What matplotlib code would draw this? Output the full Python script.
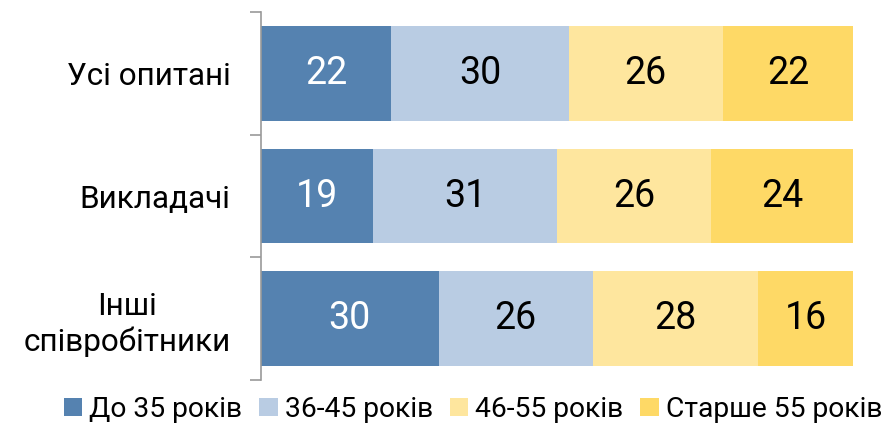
import matplotlib.pyplot as plt
import numpy as np

plt.rcParams['font.family'] = ['Roboto', 'DejaVu Sans']

categories = ["Усі опитані", "Викладачі", "Інші\nспівробітники"]
series_names = ["До 35 років", "36-45 років", "46-55 років", "Старше 55 років"]
values = [
    [22, 19, 30],
    [30, 31, 26],
    [26, 26, 28],
    [22, 24, 16],
]
colors = ["#5582b0", "#b9cce3", "#fee69e", "#fed966"]
text_colors = ["white", "black", "black", "black"]

fig = plt.figure(figsize=(8.89, 4.25), dpi=100)
ax = fig.add_axes([261 / 889, 1 - 380 / 425, (853 - 261) / 889, (380 - 12) / 425])

y = np.arange(len(categories))
left = np.zeros(len(categories))
for name, vals, col, tc in zip(series_names, values, colors, text_colors):
    bars = ax.barh(y, vals, left=left, height=0.77, color=col, label=name)
    ax.bar_label(bars, labels=[str(v) for v in vals], label_type="center",
                 color=tc, fontsize=27)
    left += np.array(vals)

ax.set_xlim(0, 100)
ax.set_ylim(2.5, -0.5)
ax.set_xticks([])
ax.set_yticks(y)
ax.set_yticklabels(categories, fontsize=22.7, linespacing=1.22, multialignment="center")
ax.set_yticks([-0.5, 0.5, 1.5, 2.5], minor=True)
ax.tick_params(axis="y", which="major", length=0, pad=22)
ax.tick_params(axis="y", which="minor", length=8, width=1.2, color="#999999")
for s in ["top", "right", "bottom"]:
    ax.spines[s].set_visible(False)
ax.spines["left"].set_color("#999999")
ax.spines["left"].set_linewidth(1.2)

fig.legend(loc="lower center", bbox_to_anchor=(0.532, -0.035), ncol=4, frameon=False,
           fontsize=20.3, handlelength=0.65, handleheight=0.65, handletextpad=0.25,
           columnspacing=0.6, borderaxespad=0.2)

fig.savefig("out.png", dpi=100)
